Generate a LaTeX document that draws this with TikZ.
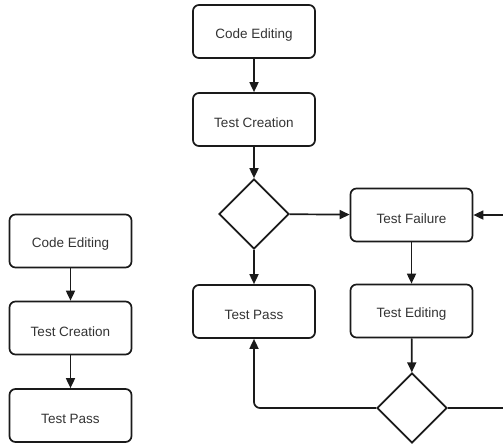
\documentclass[tikz,border=0pt]{standalone}
\usepackage{fontspec}
\setmainfont{Liberation Sans}
\usetikzlibrary{shapes.geometric,arrows.meta}
\definecolor{ln}{HTML}{1A1A1A}
\definecolor{tx}{HTML}{333333}
\newcommand{\lowtxt}[1]{\raisebox{-3.5pt}[\height][\depth]{#1}}
\tikzset{
  box/.style={draw=ln, line width=1.7pt, rounded corners=6pt, minimum width=122pt, minimum height=53pt, inner sep=0pt, text=tx, font=\fontsize{13.5}{16}\selectfont},
  dia/.style={draw=ln, line width=1.7pt, diamond, minimum width=70pt, minimum height=70pt, inner sep=0pt, aspect=1},
  arr/.style={draw=ln, line width=1.7pt, -{Triangle[length=10pt,width=9pt]}},
  lnk/.style={draw=ln, line width=1.7pt}
}
\begin{document}
\begin{tikzpicture}[x=1pt,y=-1pt]
\clip (0,0) rectangle (503,445);
\useasboundingbox (0,0) rectangle (503,445);
% left column
\node[box] (lce) at (70.5,241) {\lowtxt{Code Editing}};
\node[box] (ltc) at (70.5,328) {\lowtxt{Test Creation}};
\node[box] (ltp) at (70.5,415.5) {\lowtxt{Test Pass}};
\draw[arr] (lce) -- (ltc);
\draw[arr] (ltc) -- (ltp);
% main flow
\node[box] (ce) at (254,31.5) {\lowtxt{Code Editing}};
\node[box] (tc) at (254,119.5) {\lowtxt{Test Creation}};
\node[dia] (d1) at (254,214) {};
\node[box] (tp) at (254,311.5) {\lowtxt{Test Pass}};
\node[box] (tf) at (411.5,215) {\lowtxt{Test Failure}};
\node[box] (te) at (411.5,311) {\lowtxt{Test Editing}};
\node[dia] (d2) at (412,408) {};
\coordinate (rc) at (510,408);
\draw[arr] (ce) -- (tc);
\draw[arr] (tc) -- (d1);
\draw[arr] (d1) -- (tp);
\draw[arr] (d1) -- (tf);
\draw[arr] (tf) -- (te);
\draw[arr] (te) -- (d2);
\draw[arr, rounded corners=6pt] (d2.west) -| (tp.south);
\draw[arr, rounded corners=6pt] (d2.east) -- (rc) |- (tf.east);
\end{tikzpicture}
\end{document}
